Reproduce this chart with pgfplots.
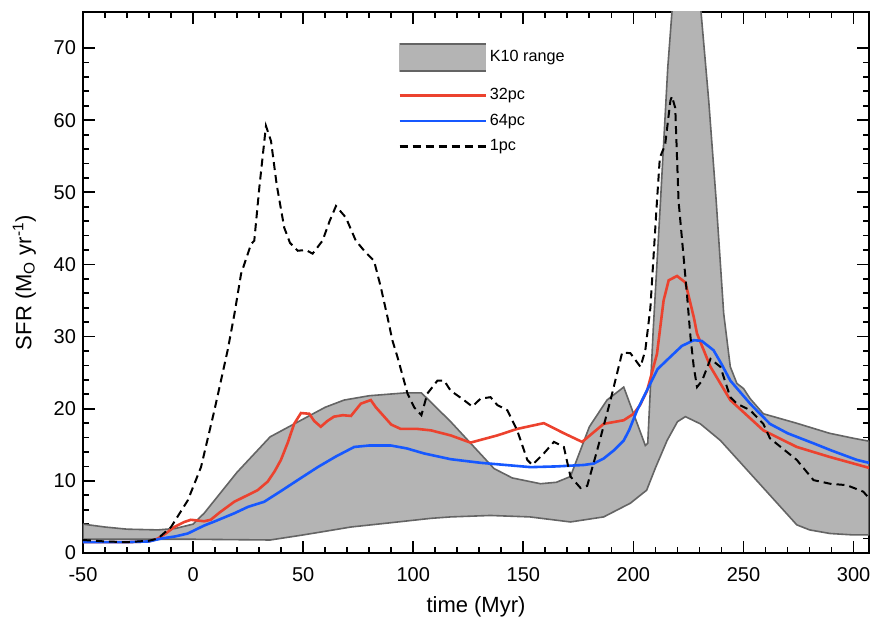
\documentclass[border=0pt]{standalone}
\usepackage{fontspec}
\setmainfont{Liberation Sans}
\usepackage{pgfplots}
\pgfplotsset{compat=1.18}
\definecolor{bandfill}{RGB}{180,180,180}
\definecolor{bandedge}{RGB}{100,100,100}
\definecolor{myred}{RGB}{236,66,46}
\definecolor{myblue}{RGB}{22,88,255}
\pgfplotsset{
  lineleg/.style={legend image code/.code={\draw[line width=1.3pt,##1] (0pt,0pt) -- (43pt,0pt);}},
  bandleg/.style={legend image code/.code={
    \path[draw=none,fill=none] (0pt,-11.5pt) -- (0pt,0pt);
    \fill[bandfill] (0pt,-6.75pt) rectangle (43pt,6.75pt);
    \draw[bandedge,line width=0.9pt] (0pt,-6.75pt) -- (43pt,-6.75pt);
    \draw[bandedge,line width=0.9pt] (0pt,6.75pt) -- (43pt,6.75pt);
  }},
}
\begin{document}
\begin{tikzpicture}
\begin{axis}[
  name=ax,
  width=393pt, height=270.5pt, scale only axis,
  xmin=-50, xmax=307, ymin=0, ymax=75,
  xtick={-50,0,50,100,150,200,250,300},
  xticklabels={-50,0,50,100,150,200,250,300},
  ytick={0,10,20,30,40,50,60,70},
  yticklabels={0,10,20,30,40,50,60,70},
  minor x tick num=4, minor y tick num=4,
  tick align=inside,
  major tick length=6pt, minor tick length=3pt,
  every tick/.style={black, line width=0.9pt},
  axis line style={line width=1.3pt},
  ticklabel style={font=\fontsize{10}{12}\selectfont},
  xticklabel style={yshift=-3.5pt},
  xlabel={time (Myr)},
  ylabel={SFR (M\textsubscript{O} yr\textsuperscript{-1})},
  label style={font=\fontsize{11}{13}\selectfont},
  xlabel style={yshift=-1pt},
  ylabel style={yshift=2pt},
  legend style={at={(0.393,0.951)}, anchor=north west, draw=none, fill=none,
    font=\fontsize{8.1}{10}\selectfont, row sep=2.6pt,
    nodes={inner sep=1.5pt}},
  legend cell align=left,
]
\addplot[fill=bandfill, draw=bandedge, line width=0.8pt, bandleg] coordinates {
(-50,4.0) (-40,3.6) (-30,3.3) (-16,3.2) (-8,3.4) (0,4.0) (5,5.5) (20,11.2) (35,16.1)
(49,18.4) (60,20.2) (68.6,21.2) (80,21.8) (96.6,22.2) (103.7,22.2) (117,18.2)
(136.7,11.7) (145,10.4) (157.8,9.6) (165,9.8) (171.4,10.6) (175,13.5) (180,17.5)
(188,21.2) (195.6,23.0) (205.4,14.9) (206.5,15.2) (209,31) (212.3,48.8) (215.6,67.3)
(217.5,75) (220,80) (228,80) (230.7,75) (234.2,62.7) (237.6,48.8) (241,33.2)
(244,25.8) (247,23.5) (250,22.8) (253,21.4) (259,19.3) (274,18) (289,16.6) (300,15.9) (307,15.5)
(307,2.5) (300,2.5) (289.3,2.7) (280,3.2) (274.2,3.9) (239.5,15.6) (230.4,17.9)
(223.6,18.9) (220,18.2) (215.3,15.6) (210,11.8) (206,8.7) (198.6,6.9) (186.5,5.0)
(171.4,4.3) (153,5.0) (135,5.2) (117,5.0) (108,4.8) (90,4.2) (71.7,3.6) (50,2.5)
(35,1.8) (0,1.9) (-50,1.9)
} -- cycle;
\addlegendentry{K10 range}
\addplot[myred, line width=1.3pt, lineleg] coordinates {
(-50,1.5) (-30,1.5) (-20,1.6) (-16,2.0) (-12,2.8) (-8.5,3.6) (-4,4.3) (-1,4.6) (5,4.4)
(8,4.6) (12,5.6) (18.7,7.1) (24,7.9) (29.3,8.7) (33.9,9.9) (37,11.3) (39.9,12.9)
(43,15.3) (45.9,17.9) (49,19.4) (52.8,19.3) (55,18.3) (58,17.5) (61,18.3) (64,18.9)
(68,19.1) (71.7,19.0) (76.2,20.7) (80.7,21.2) (83,20.2) (86.8,18.9) (90,17.8)
(94.3,17.2) (101.8,17.2) (108,17.0) (117,16.3) (126,15.3) (138.2,16.3) (147.2,17.2)
(159.3,18.0) (168.4,16.6) (176.7,15.4) (181,16.5) (186.5,17.9) (195.6,18.4)
(200.1,19.3) (203,20.5) (206.2,22.5) (210.7,27.6) (213.7,35.0) (216,37.8)
(219.8,38.4) (223.6,37.5) (227.4,32.7) (228.9,30.4) (235,25.8) (244,21.2) (259,17.0)
(274.2,14.7) (289.3,13.3) (300,12.4) (307,11.8)
};
\addlegendentry{32pc}
\addplot[myblue, line width=1.3pt, lineleg] coordinates {
(-50,1.5) (-30,1.5) (-20,1.6) (-14.5,2.0) (-8,2.3) (-2.4,2.7) (5,3.8) (10,4.4)
(18.7,5.5) (25,6.4) (32.3,7.1) (40,8.6) (48,10.2) (56.6,11.9) (65,13.4) (73.2,14.7)
(80,14.9) (89.8,14.9) (97,14.5) (104.9,13.8) (117,13.0) (130.6,12.5) (153.3,11.9)
(165,12.0) (177.5,12.2) (182,12.4) (186.5,13.1) (191,14.2) (195.6,15.6) (198,17)
(201.7,19.8) (207.7,23.5) (211,25.5) (216.8,27.2) (222,28.7) (227.4,29.5) (231,29.4)
(236.4,28.1) (240,26.2) (244,23.9) (253,20.7) (262,17.9) (270,16.6) (281.8,15.2)
(290,14.2) (301.5,12.9) (307,12.5)
};
\addlegendentry{64pc}
\addplot[black, line width=1pt, dash pattern=on 4pt off 2.5pt, lineleg] coordinates {
(-50,1.8) (-40,1.6) (-30,1.5) (-20,1.7) (-16,2.0) (-10,3.6) (-2.4,7.3) (3.6,11.9)
(9.7,19.8) (15.7,28.1) (18.7,33) (21.8,38.7) (26.3,42.8) (27.8,43.3) (30.1,50.7)
(33.1,59.2) (35.4,57.1) (38,51) (41.4,45.1) (44,43) (47.5,41.9) (51.2,42.0)
(54.3,41.5) (58.8,43.3) (62,46) (64.9,48.1) (69.4,46.5) (73.9,43.3) (78,41.8)
(82.2,40.5) (85.3,36.8) (88.3,32.7) (90.5,29.5) (92.8,27.2) (97.4,22.1) (100.4,20.2)
(103.7,19.1) (106.4,22.1) (111,23.9) (114,23.9) (117,22.5) (123,21.2) (126.8,20.3)
(130.6,21.4) (135.1,21.6) (138.2,20.5) (142.7,19.8) (147.2,17.0) (151.8,12.9)
(154.1,12.2) (159.3,13.8) (163.9,15.4) (168.4,14.7) (171.4,10.6) (176,9.0) (179,9.3)
(183.5,14.2) (189.6,21.2) (194.9,27.8) (198.6,27.7) (203.2,25.8) (205.4,28.1)
(207.7,34) (210.7,48.8) (212,54.8) (214.4,56.6) (216.8,62.7) (217.5,63.3) (219,61.7)
(220.5,48.8) (224.3,35.9) (225.9,30) (227.4,25.8) (228.9,23.0) (231.2,23.9)
(235,26.9) (239.5,25.8) (244,21.6) (247,20.7) (253,19.8) (259,17.9) (262,15.9)
(274.2,12.9) (281.8,10.1) (289.3,9.6) (296.9,9.4) (304.4,8.5) (307,7.6)
};
\addlegendentry{1pc}
\end{axis}
\pgfresetboundingbox
\useasboundingbox ([xshift=-41.5pt,yshift=-34pt]ax.south west) rectangle ([xshift=2pt,yshift=6pt]ax.north east);
\end{tikzpicture}
\end{document}
